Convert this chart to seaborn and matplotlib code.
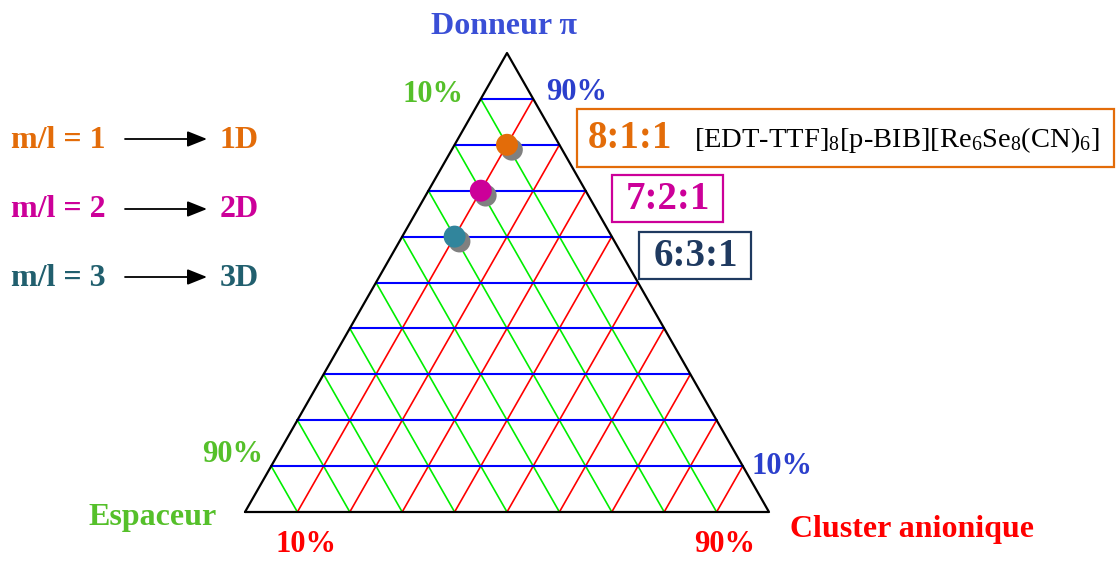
import numpy as np
import pandas as pd
import matplotlib
matplotlib.use("Agg")
import matplotlib.pyplot as plt
import matplotlib.patheffects as pe
from matplotlib.patches import Rectangle
import seaborn as sns

# Compositions: Donneur pi : Espaceur : Cluster anionique
ratio_labels = ["8:1:1", "7:2:1", "6:3:1"]
donneur = [8, 7, 6]
espaceur = [1, 2, 3]
cluster = [1, 1, 1]
ratio_colors = ["#E36C09", "#CC0099", "#31859C"]

# Grid levels (percent) and corner tick labels
grid_levels = [10, 20, 30, 40, 50, 60, 70, 80, 90]
tick_low, tick_high = "10%", "90%"

# Dimensionality legend
ml_labels = ["m/l = 1", "m/l = 2", "m/l = 3"]
dim_labels = ["1D", "2D", "3D"]
ml_colors = ["#E36C09", "#CC0099", "#215F6E"]

formula = r"[EDT-TTF]$_8$[p-BIB][Re$_6$Se$_8$(CN)$_6$]"

W, H = 1117, 561
sns.set_theme(style="white")
plt.rcParams["font.family"] = ["Liberation Serif", "DejaVu Serif"]
plt.rcParams["mathtext.fontset"] = "custom"
plt.rcParams["mathtext.rm"] = "Liberation Serif"
plt.rcParams["mathtext.it"] = "Liberation Serif:italic"
plt.rcParams["mathtext.bf"] = "Liberation Serif:bold"

fig = plt.figure(figsize=(W / 100, H / 100), dpi=100)
ax = fig.add_axes([0, 0, 1, 1])
ax.set_axis_off()

# Frame of the ternary diagram on the canvas (pixels)
LEFT_PX, RIGHT_PX, BASE_PX, APEX_PX = 245, 769, 512, 53
span = RIGHT_PX - LEFT_PX
height = BASE_PX - APEX_PX
ax.set_xlim(-LEFT_PX / span, (W - LEFT_PX) / span)
ax.set_ylim((BASE_PX - H) / height, BASE_PX / height)


def to_xy(d, e, c):
    tot = d + e + c
    d, e, c = d / tot, e / tot, c / tot
    return c + d / 2.0, d


def px(x, y):
    return x / W, 1 - y / H


# Grid lines
rows = []
for lvl in grid_levels:
    f = lvl / 100
    # constant Donneur (horizontal, blue)
    for p in [(f, 1 - f, 0), (f, 0, 1 - f)]:
        x, y = to_xy(*p)
        rows.append(dict(fam="donneur", seg=f"d{lvl}", x=x, y=y))
    # constant Espaceur (green)
    for p in [(1 - f, f, 0), (0, f, 1 - f)]:
        x, y = to_xy(*p)
        rows.append(dict(fam="espaceur", seg=f"e{lvl}", x=x, y=y))
    # constant Cluster (red)
    for p in [(0, 1 - f, f), (1 - f, 0, f)]:
        x, y = to_xy(*p)
        rows.append(dict(fam="cluster", seg=f"c{lvl}", x=x, y=y))
grid = pd.DataFrame(rows)

for fam, col, lw in [("espaceur", "#00EE00", 1.2), ("cluster", "#FF0000", 1.2),
                     ("donneur", "#0000FF", 1.5)]:
    sns.lineplot(data=grid[grid.fam == fam], x="x", y="y", units="seg",
                 estimator=None, sort=False, color=col, linewidth=lw, ax=ax)

# Triangle outline
corners = [(0, 1, 0), (0, 0, 1), (1, 0, 0), (0, 1, 0)]
tri = pd.DataFrame([to_xy(*p) for p in corners], columns=["x", "y"])
tri["seg"] = "outline"
sns.lineplot(data=tri, x="x", y="y", units="seg", estimator=None, sort=False,
             color="black", linewidth=1.6, ax=ax)

# Composition points
pts = pd.DataFrame({"label": ratio_labels, "d": donneur, "e": espaceur, "c": cluster})
pts["x"], pts["y"] = zip(*[to_xy(d, e, c) for d, e, c in zip(pts.d, pts.e, pts.c)])
sns.scatterplot(data=pts, x="x", y="y", hue="label",
                palette=dict(zip(ratio_labels, ratio_colors)),
                s=250, linewidth=0, legend=False, ax=ax, zorder=5)
for coll in ax.collections:
    coll.set_path_effects([pe.SimplePatchShadow(offset=(3.5, -3.5),
                                                shadow_rgbFace="#808080", alpha=1.0),
                           pe.Normal()])

# Axis titles and corner ticks
bold = dict(fontweight="bold", ha="center", va="center")
fig.text(*px(504, 27), "Donneur π", color="#3A4FD6", fontsize=23, **bold)
fig.text(*px(153, 517), "Espaceur", color="#55C02A", fontsize=23, **bold)
fig.text(*px(912, 530), "Cluster anionique", color="#FF0000", fontsize=23, **bold)
tick_kw = dict(fontsize=22, **bold)
fig.text(*px(433, 95), tick_low, color="#55C02A", **tick_kw)
fig.text(*px(233, 455), tick_high, color="#55C02A", **tick_kw)
fig.text(*px(577, 92), tick_high, color="#2B3FCC", **tick_kw)
fig.text(*px(782, 467), tick_low, color="#2B3FCC", **tick_kw)
fig.text(*px(306, 545), tick_low, color="#FF0000", **tick_kw)
fig.text(*px(725, 545), tick_high, color="#FF0000", **tick_kw)

# Composition boxes
box_specs = [(577, 109, 1114, 167, "#E36C09"),
             (612, 175, 723, 222, "#CC0099"),
             (639, 232, 751, 279, "#1F3A60")]
for x0, y0, x1, y1, col in box_specs:
    fx0, fy1 = px(x0, y1)
    fx1, fy0 = px(x1, y0)
    fig.patches.append(Rectangle((fx0, fy1), fx1 - fx0, fy0 - fy1, fill=False,
                                 edgecolor=col, linewidth=1.6,
                                 transform=fig.transFigure))

fig.text(*px(630, 138), ratio_labels[0], color="#E36C09", fontsize=28, **bold)
fig.text(*px(694, 140), formula, color="black", fontsize=20.5, ha="left", va="center")
fig.text(*px(668, 200), ratio_labels[1], color="#CC0099", fontsize=28, **bold)
fig.text(*px(696, 256), ratio_labels[2], color="#1F3A60", fontsize=28, **bold)

# Dimensionality legend with arrows
for i, (ml, dim, col) in enumerate(zip(ml_labels, dim_labels, ml_colors)):
    yy = [139, 209, 277][i]
    fig.text(*px(11, yy + 1), ml, color=col, fontsize=23, fontweight="bold",
             ha="left", va="center")
    fig.text(*px(239, yy + 1), dim, color=col, fontsize=23, **bold)
    ax.annotate("", xy=px(207, yy), xytext=px(125, yy),
                xycoords="figure fraction", textcoords="figure fraction",
                arrowprops=dict(arrowstyle="-|>,head_length=1.0,head_width=0.4",
                                color="black", lw=1.3, shrinkA=0, shrinkB=0))

fig.savefig("out.png", dpi=100)
